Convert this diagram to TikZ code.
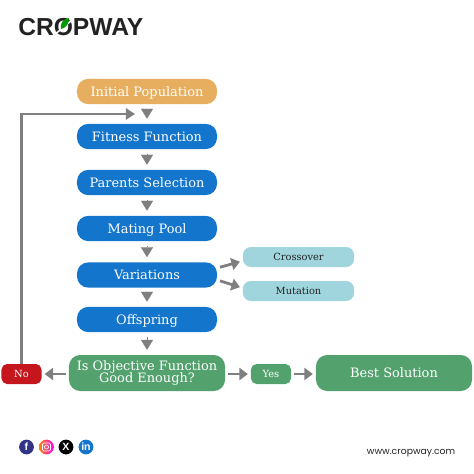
\documentclass[tikz,border=0pt]{standalone}
\usepackage{fontspec}
\setmainfont{DejaVu Serif}
\setsansfont{Liberation Sans}
\newfontfamily\urlfont{Poppins}
\usetikzlibrary{arrows.meta}
\definecolor{popcol}{HTML}{E6AE5E}
\definecolor{fitcol}{HTML}{1475CC}
\definecolor{varcol}{HTML}{A0D5DE}
\definecolor{goodcol}{HTML}{53A26E}
\definecolor{nocol}{HTML}{C4161C}
\definecolor{arrcol}{HTML}{7F7F7F}
\definecolor{inkcol}{HTML}{222222}
\tikzset{
 pill/.style={rounded corners=.28cm,minimum width=3.5cm,minimum height=.63cm,inner sep=0pt,text=white,font=\fontsize{9.2}{10}\selectfont},
 fitbox/.style={pill,fill=fitcol,text height=8.5pt,text depth=1.5pt},
 goodbox/.style={pill,fill=goodcol,minimum width=3.9cm,minimum height=.9cm,align=center},
 smallbox/.style={pill,fill=goodcol,minimum width=1cm,minimum height=.5cm,rounded corners=.14cm,font=\fontsize{7}{8}\selectfont},
 opbox/.style={pill,fill=varcol,minimum width=2.78cm,minimum height=.5cm,rounded corners=.2cm,text=inkcol,font=\fontsize{7}{8}\selectfont},
 dropto/.style={draw=arrcol,line width=.1pt,-{Triangle[width=8.5pt,length=7pt]},shorten <=3.5pt,shorten >=3.5pt},
 flowto/.style={draw=arrcol,line width=2pt,-{Triangle[width=8.5pt,length=6pt]},shorten <=2pt,shorten >=2pt},
 social/.style={circle,minimum size=.37cm,inner sep=0pt,text=white,font=\sffamily\bfseries\fontsize{7.5}{8}\selectfont}
}
\begin{document}
\begin{tikzpicture}[x=.025cm,y=-.025cm]
 \useasboundingbox (0,0) rectangle (474,474);
 % logo
 \node[anchor=west,inner sep=0pt,text=inkcol,font=\sffamily\bfseries\fontsize{17.5}{18}\selectfont] (logo) at (18,27.5) {CROPWAY};
 \fill[white,rotate around={-50:(62.5,28)}] (61.7,16) rectangle (63.3,40);
 \fill[green!60!black] (69,18) .. controls (63,19) and (60,23) .. (61,29) .. controls (66,28) and (69,24) .. (69,18);
 % flow
 \node[fitbox,fill=popcol] (init) at (147,91.5) {Initial Population};
 \node[fitbox] (fitness) at (147,136.5) {Fitness Function};
 \node[fitbox] (parents) at (147,182.5) {Parents Selection};
 \node[fitbox] (mating) at (147,228.5) {Mating Pool};
 \node[fitbox] (variations) at (147,275) {Variations};
 \node[fitbox] (offspring) at (147,319.5) {Offspring};
 \node[goodbox] (good) at (147,373) {Is Objective Function\\[-1.5pt]Good Enough?};
 \node[smallbox,fill=nocol] (no) at (21.5,374) {No};
 \node[smallbox] (yes) at (271,374) {Yes};
 \node[goodbox] (best) at (394,373) {Best Solution};
 \node[opbox] (crossover) at (298.5,257) {Crossover};
 \node[opbox] (mutation) at (298.5,291) {Mutation};
 \draw[dropto] (init) -- (fitness);
 \draw[dropto] (fitness) -- (parents);
 \draw[dropto] (parents) -- (mating);
 \draw[dropto] (mating) -- (variations);
 \draw[dropto] (variations) -- (offspring);
 \draw[dropto] (offspring) -- (good);
 \draw[flowto] (variations.east |- 0,268) -- (crossover.west |- 0,261);
 \draw[flowto] (variations.east |- 0,280) -- (mutation.west |- 0,288);
 \draw[flowto] (good.west |- no) -- (no);
 \draw[flowto] (good.east |- yes) -- (yes);
 \draw[flowto] (yes) -- (best.west |- yes);
 % back to the top
 \coordinate (backin) at (135,114);
 \draw[arrcol,line width=1.7pt,-{Triangle[width=8pt,length=6.5pt]}] (no.north) -- (21.5,114) -- (backin);
 % footer
 \node[social,fill=blue!40!black!80] (fb) at (26.5,447) {f};
 \node[social,left color=orange,right color=magenta] (insta) at (46.5,447) {};
 \draw[white,line width=.5pt,rounded corners=1pt] (42.5,443) rectangle (50.5,451);
 \draw[white,line width=.5pt] (insta) circle (2);
 \node[social,fill=black] (xlogo) at (66,447) {X};
 \node[social,fill=fitcol] (linkedin) at (86,447) {in};
 \node[anchor=east,inner sep=0pt,text=inkcol,font=\urlfont\fontsize{6.6}{7}\selectfont] (site) at (455.5,453) {www.cropway.com};
\end{tikzpicture}
\end{document}
